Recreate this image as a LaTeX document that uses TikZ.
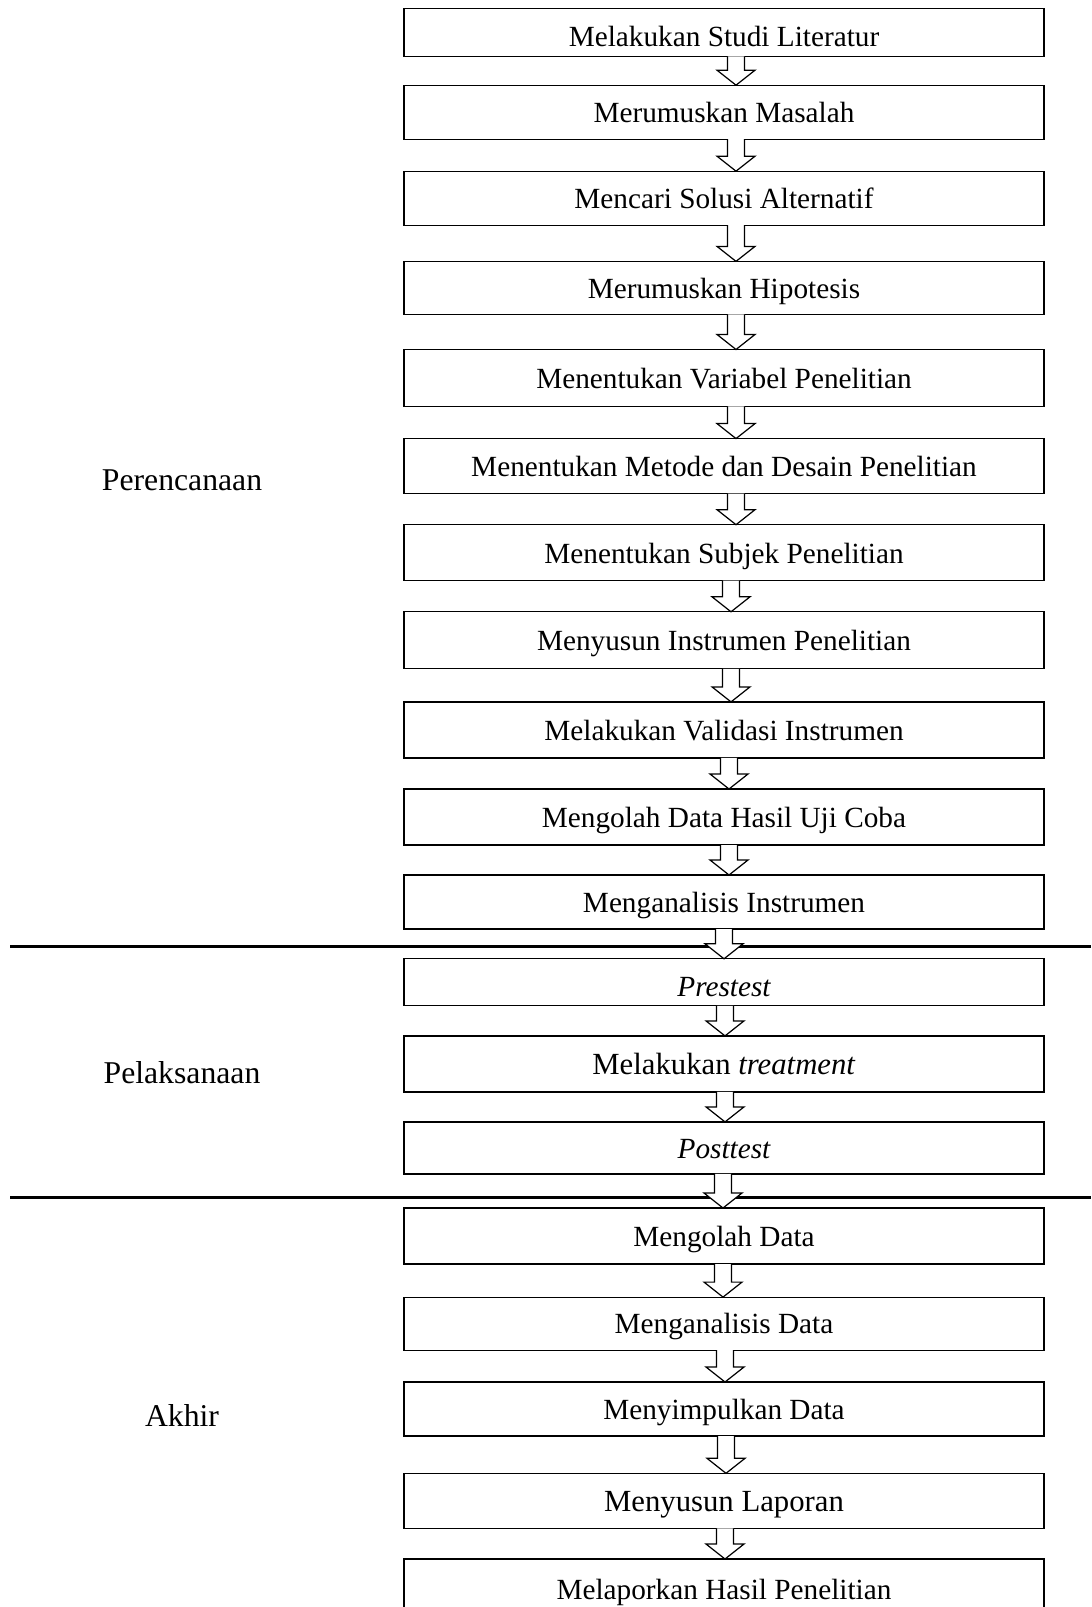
\documentclass[tikz,border=0pt]{standalone}
\usepackage{fontspec}
\setmainfont{Liberation Serif}
\usetikzlibrary{calc}

\tikzset{
  stepbox/.style={draw, line width=0.5pt, inner sep=0pt, outer sep=0pt,
    minimum width=262.4pt, minimum height={#1*0.41pt},
    text height=8.5pt, text depth=0pt,
    font=\fontsize{12}{14}\selectfont},
  phase/.style={font=\fontsize{13}{15}\selectfont},
  blockarrow/.style={draw, fill=white, line width=0.5pt, line join=miter},
  divider/.style={line width=0.9pt}
}

% hollow arrow from box #1 down to box #2, shifted by #3
\newcommand\flowarrow[3]{%
  \draw[blockarrow] ($(#1.south)+(#3-8.5,0)$) -- ($(#2.north)+(#3-8.5,-15)$)
    -- ($(#2.north)+(#3-19,-15)$) -- ($(#2.north)+(#3,0)$)
    -- ($(#2.north)+(#3+19,-15)$) -- ($(#2.north)+(#3+8.5,-15)$)
    -- ($(#1.south)+(#3+8.5,0)$);}

\begin{document}
\begin{tikzpicture}[x=0.41pt,y=-0.41pt]
    \useasboundingbox (0,0) rectangle (1091,1607);

    \node[phase] (plan) at (182,480)  {Perencanaan};
    \node[phase] (exec) at (182,1073) {Pelaksanaan};
    \node[phase] (end)  at (182,1415) {Akhir};

    \draw[divider] (10,946.5) -- (1091,946.5);
    \draw[divider] (10,1197.5) -- (1091,1197.5);

    \node[stepbox=48] (lit)  at (724,32.3)  {\raisebox{-1.4pt}{Melakukan Studi Literatur}};
    \node[stepbox=54] (mas)  at (724,112.2) {Merumuskan Masalah};
    \node[stepbox=54] (sol)  at (724,198.2) {Mencari Solusi Alternatif};
    \node[stepbox=53] (hip)  at (724,287.9) {Merumuskan Hipotesis};
    \node[stepbox=57] (var)  at (724,378)   {Menentukan Variabel Penelitian};
    \node[stepbox=55] (met)  at (724,466.1) {Menentukan Metode dan Desain Penelitian};
    \node[stepbox=56] (sub)  at (724,552.7) {Menentukan Subjek Penelitian};
    \node[stepbox=57] (ins)  at (724,640.3) {Menyusun Instrumen Penelitian};
    \node[stepbox=56] (val)  at (724,729.9) {Melakukan Validasi Instrumen};
    \node[stepbox=56] (uji)  at (724,817)   {Mengolah Data Hasil Uji Coba};
    \node[stepbox=54] (ana)  at (724,902)   {Menganalisis Instrumen};

    \node[stepbox=47] (pre)  at (724,982.3) {\raisebox{-1.4pt}{\itshape Prestest}};
    \node[stepbox=56] (trt)  at (724,1063.9)
          {\fontsize{12.6}{14}\selectfont Melakukan \textit{treatment}};
    \node[stepbox=52] (post) at (724,1147.9) {\itshape Posttest};

    \node[stepbox=56] (olah) at (724,1236)   {Mengolah Data};
    \node[stepbox=53] (anad) at (724,1323.6) {Menganalisis Data};
    \node[stepbox=54] (simp) at (724,1409)   {Menyimpulkan Data};
    \node[stepbox=55] (lap)  at (724,1500.8)
          {\fontsize{12.6}{14}\selectfont Menyusun Laporan};
    \node[stepbox=60] (hsl)  at (724,1589)   {Melaporkan Hasil Penelitian};

    \flowarrow{lit}{mas}{12}
    \flowarrow{mas}{sol}{12}
    \flowarrow{sol}{hip}{12}
    \flowarrow{hip}{var}{12}
    \flowarrow{var}{met}{12}
    \flowarrow{met}{sub}{12}
    \flowarrow{sub}{ins}{7}
    \flowarrow{ins}{val}{7}
    \flowarrow{val}{uji}{5}
    \flowarrow{uji}{ana}{5}
    \flowarrow{ana}{pre}{0}
    \flowarrow{pre}{trt}{1}
    \flowarrow{trt}{post}{1}
    \flowarrow{post}{olah}{-1}
    \flowarrow{olah}{anad}{-1}
    \flowarrow{anad}{simp}{1}
    \flowarrow{simp}{lap}{2}
    \flowarrow{lap}{hsl}{1}
\end{tikzpicture}
\end{document}
